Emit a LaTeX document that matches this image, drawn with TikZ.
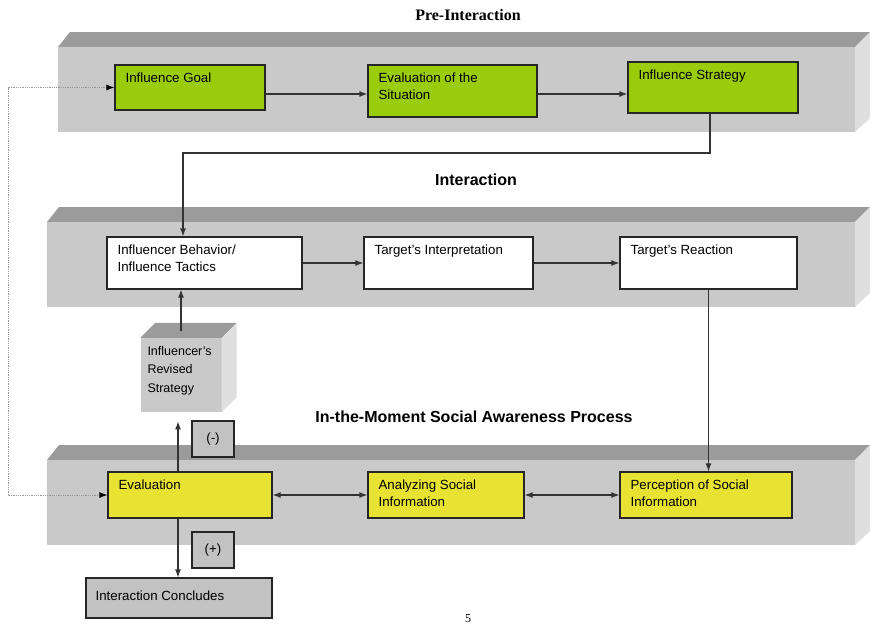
\documentclass[tikz,border=0pt]{standalone}
\usepackage{fontspec}
\setmainfont{Liberation Sans}
\newfontfamily\titleserif{Liberation Serif}
\usetikzlibrary{arrows.meta}
\definecolor{slabfront}{HTML}{C9C9C9}
\definecolor{slabtop}{HTML}{9B9B9B}
\definecolor{slabside}{HTML}{DFDFDF}
\definecolor{leafgreen}{HTML}{9ACC0C}
\definecolor{lemon}{HTML}{E8E233}
\definecolor{boxgray}{HTML}{C2C2C2}
\newcommand{\boxfont}{\fontsize{13.3}{17}\selectfont}
\tikzset{
    box/.style={draw=black!85,line width=1.2pt,inner sep=0pt},
    greenbox/.style={box,fill=leafgreen},
    whitebox/.style={box,fill=white},
    yellowbox/.style={box,fill=lemon},
    graybox/.style={box,fill=boxgray},
    intext/.style={label={[anchor=north west,align=left,inner sep=0pt,font=\boxfont,xshift=11pt,yshift=-8pt]north west:#1}},
    conn/.style={line width=1.2pt,draw=black!80,-{Latex[length=8pt,width=6pt]}},
    twoway/.style={conn,{Latex[length=8pt,width=6pt]}-{Latex[length=8pt,width=6pt]}},
    fb/.style={line width=.8pt,draw=black!40,densely dotted,{Latex[length=8pt,width=6pt,black]}-{Latex[length=8pt,width=6pt,black]}},
    heading/.style={font=\bfseries\fontsize{16}{18}\selectfont}
}
\begin{document}
\begin{tikzpicture}[x=1pt,y=-1pt]
    \useasboundingbox[fill=white](0,0)rectangle(870,629);
    % the three slabs
    \foreach \l/\t in {58/47,47/222,47/460}{
        \fill[slabtop](\l,\t)--++(12,-15)--(870,\t-15)--(855,\t)--cycle;
        \fill[slabfront](\l,\t)rectangle(855,\t+85);
        \fill[slabside](855,\t)--(870,\t-15)--(870,\t+71)--(855,\t+85)--cycle;
    }
    \node[heading,font=\titleserif\bfseries\fontsize{16}{18}\selectfont](pretitle)at(468,15){Pre-Interaction};
    \node[heading](inttitle)at(476,180){Interaction};
    \node[heading](awaretitle)at(474,417){In-the-Moment Social Awareness Process};
    % pre-interaction
    \node[greenbox,minimum width=150,minimum height=45,intext={Influence Goal}](goal)at(190,87.5){};
    \node[greenbox,minimum width=169,minimum height=52,intext={Evaluation of the\\Situation}](evalsit)at(452.5,91){};
    \node[greenbox,minimum width=170,minimum height=51,intext={Influence Strategy}](strategy)at(713,87.5){};
    % interaction
    \node[whitebox,minimum width=195,minimum height=52,intext={Influencer Behavior/\\Influence Tactics}](behavior)at(204.5,263){};
    \node[whitebox,minimum width=169,minimum height=52,intext={Target's Interpretation}](interp)at(448.5,263){};
    \node[whitebox,minimum width=177,minimum height=52,intext={Target's Reaction}](reaction)at(708.5,263){};
    % social awareness
    \node[yellowbox,minimum width=164,minimum height=46,intext={Evaluation}](evaluation)at(190,495){};
    \node[yellowbox,minimum width=156,minimum height=46,intext={Analyzing Social\\Information}](analyzing)at(446,495){};
    \node[yellowbox,minimum width=172,minimum height=46,intext={Perception of Social\\Information}](perception)at(706,495){};
    % revised strategy cube
    \node[fill=slabfront,minimum width=81,minimum height=74,inner sep=0pt,
        label={[anchor=north west,align=left,inner sep=0pt,font=\fontsize{12.5}{18.5}\selectfont,xshift=7pt,yshift=-8pt]north west:Influencer's\\Revised\\Strategy}](revised)at(181,375){};
    \fill[slabtop](revised.north west)--++(15,-15)--([shift={(15,-15)}]revised.north east)--(revised.north east)--cycle;
    \fill[slabside](revised.north east)--++(15,-15)--([shift={(15,-15)}]revised.south east)--(revised.south east)--cycle;
    \node[graybox,minimum width=42,minimum height=36,font=\boxfont](minus)at(213,439){(-)};
    \node[graybox,minimum width=42,minimum height=36,font=\boxfont](plus)at(213,550){(+)};
    \node[graybox,minimum width=186,minimum height=40,
        label={[anchor=west,inner sep=0pt,font=\boxfont,xshift=10pt,yshift=2pt]west:Interaction Concludes}](concludes)at(179,598){};
    \node[font=\titleserif\fontsize{12}{14}\selectfont](page)at(468,619){5};
    % connectors
    \coordinate(row1)at(0,94);
    \coordinate(bend)at(183,153);
    \coordinate(loop)at(8,300);
    \draw[conn](goal.east|-row1)--(evalsit.west|-row1);
    \draw[conn](evalsit.east|-row1)--(strategy.west|-row1);
    \draw[conn]([xshift=-3pt]strategy.south)|-(bend)--(bend|-behavior.north);
    \draw[conn](behavior.east)--(interp.west);
    \draw[conn](interp.east)--(reaction.west);
    \draw[conn](reaction.south)--(reaction.south|-perception.north);
    \draw[twoway](evaluation.east)--(analyzing.west);
    \draw[twoway](analyzing.east)--(perception.west);
    \draw[conn]([yshift=7pt]revised.north)--(revised.north|-behavior.south);
    \draw[conn]([xshift=-12pt]evaluation.north)--++(0,-50);
    \draw[conn]([xshift=-12pt]evaluation.south)--([xshift=-1pt]concludes.north);
    \draw[fb](evaluation.west)-|(loop)|-(goal.west);
\end{tikzpicture}
\end{document}
